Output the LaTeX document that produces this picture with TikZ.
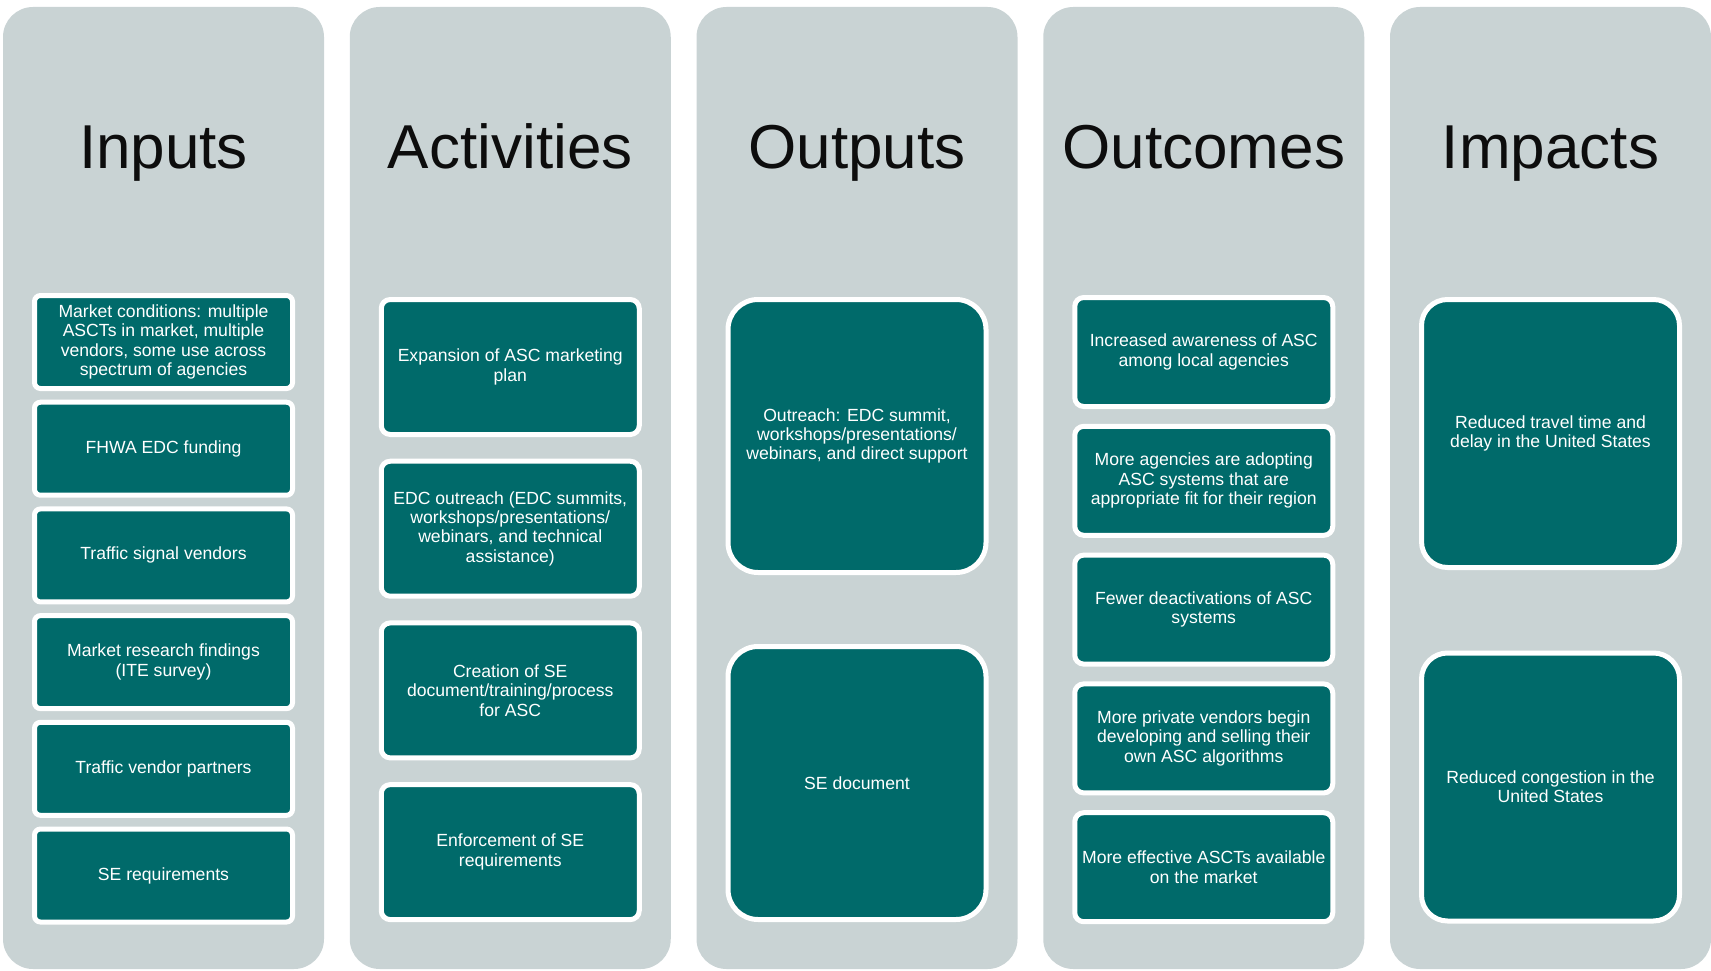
\documentclass[tikz,border=0pt]{standalone}
\usepackage{fontspec}
\setmainfont{Liberation Sans}
\usepackage{xcolor}
\usepackage{tikz}
\usetikzlibrary{positioning}
\definecolor{colgrey}{RGB}{201,211,212}
\definecolor{boxteal}{RGB}{0,106,106}
\tikzset{
  column/.style={rectangle, rounded corners=30pt, fill=colgrey, minimum width=321pt, minimum height=962pt, inner sep=0pt, outer sep=0pt},
  heading/.style={anchor=base, text=black!95, font=\fontsize{62}{68}\selectfont},
  item/.style={rectangle, fill=boxteal, draw=white, line width=5pt, minimum width=258pt, text=white, align=center, inner sep=0pt, outer sep=0pt, font=\fontsize{17.6}{19.4}\selectfont},
  inbox/.style={item, minimum height=93pt, rounded corners=6pt},
  actbox/.style={item, minimum height=135pt, rounded corners=9pt},
  outbox/.style={item, minimum height=273pt, rounded corners=30pt},
  ocbox/.style={item, minimum height=109pt, rounded corners=9pt},
  impbox/.style={item, minimum height=268pt, rounded corners=26pt}
}

\begin{document}
\begin{tikzpicture}[x=1pt, y=-1pt]
  \useasboundingbox (0,0) rectangle (1711,971);

  % Columns
  \node (colIn) [column] at (163.5,488) {};
  \node (colAct) [column] at (510.25,488) {};
  \node (colOut) [column] at (857,488) {};
  \node (colOc) [column] at (1203.75,488) {};
  \node (colImp) [column] at (1550.5,488) {};

  % Headings
  \node (hIn) [heading] at (163.5,168) {Inputs};
  \node (hAct) [heading] at (510.25,168) {Activities};
  \node (hOut) [heading] at (857,168) {Outputs};
  \node (hOc) [heading] at (1203.75,168) {Outcomes};
  \node (hImp) [heading] at (1550.5,168) {Impacts};

  % Inputs
  \node (in1) [inbox] at (163.5,342) {Market conditions: multiple\\ASCTs in market, multiple\\vendors, some use across\\spectrum of agencies};
  \node (in2) [inbox, below=13.7pt of in1] {FHWA EDC funding};
  \node (in3) [inbox, below=13.7pt of in2] {Traffic signal vendors};
  \node (in4) [inbox, below=13.7pt of in3] {Market research findings\\(ITE survey)};
  \node (in5) [inbox, below=13.7pt of in4] {Traffic vendor partners};
  \node (in6) [inbox, below=13.7pt of in5] {SE requirements};

  % Activities
  \node (act1) [actbox] at (510.25,367) {Expansion of ASC marketing\\plan};
  \node (act2) [actbox, below=26.7pt of act1] {EDC outreach (EDC summits,\\workshops/presentations/\\webinars, and technical\\assistance)};
  \node (act3) [actbox, below=26.7pt of act2] {Creation of SE\\document/training/process\\for ASC};
  \node (act4) [actbox, below=26.7pt of act3] {Enforcement of SE\\requirements};

  % Outputs
  \node (out1) [outbox] at (857,436) {Outreach: EDC summit,\\workshops/presentations/\\webinars, and direct support};
  \node (out2) [outbox, below=74pt of out1] {SE document};

  % Outcomes
  \node (oc1) [ocbox] at (1203.75,352) {Increased awareness of ASC\\among local agencies};
  \node (oc2) [ocbox, below=19.8pt of oc1] {More agencies are adopting\\ASC systems that are\\appropriate fit for their region};
  \node (oc3) [ocbox, below=19.8pt of oc2] {Fewer deactivations of ASC\\systems};
  \node (oc4) [ocbox, below=19.8pt of oc3] {More private vendors begin\\developing and selling their\\own ASC algorithms};
  \node (oc5) [ocbox, below=19.8pt of oc4] {More effective ASCTs available\\on the market};

  % Impacts
  \node (imp1) [impbox] at (1550.5,433.5) {Reduced travel time and\\delay in the United States};
  \node (imp2) [impbox, below=85.5pt of imp1] {Reduced congestion in the\\United States};
\end{tikzpicture}
\end{document}
